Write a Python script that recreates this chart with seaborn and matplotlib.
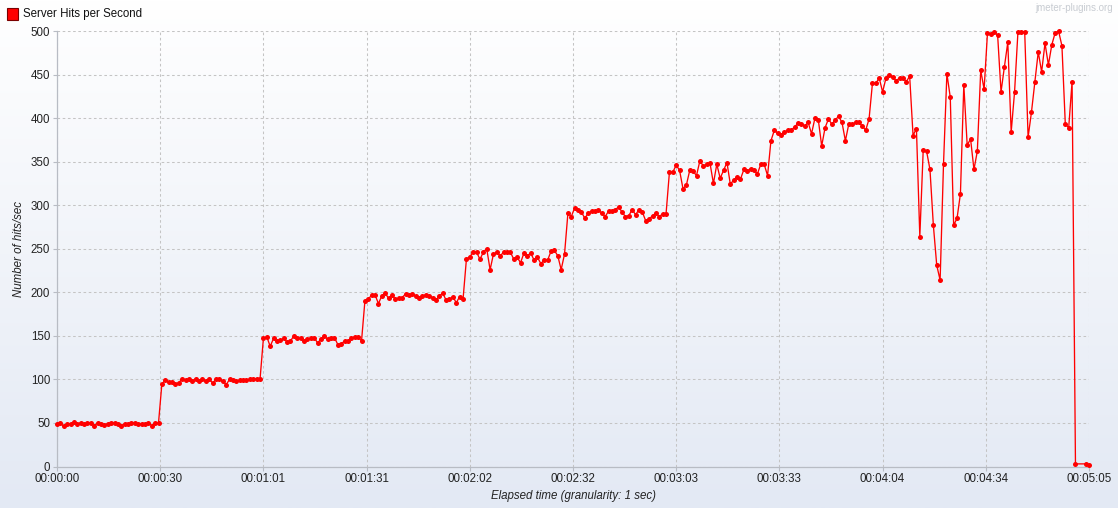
import numpy as np
import pandas as pd
import matplotlib
matplotlib.use("Agg")
import matplotlib.pyplot as plt
import seaborn as sns
from matplotlib.colors import LinearSegmentedColormap
from matplotlib.patches import Rectangle

# ---------------- data ----------------
series_name = "Server Hits per Second"

hits_0_39 = [49, 50, 46, 49, 49, 51, 49, 50, 49, 50, 50, 47, 50, 49, 48, 49, 50, 50, 49, 47,
             49, 49, 50, 50, 49, 49, 49, 50, 47, 50, 50, 95, 99, 97, 97, 95, 96, 101, 99, 100]
hits_40_79 = [98, 101, 98, 101, 98, 100, 96, 100, 100, 98, 94, 100, 99, 98, 99, 99, 99, 100, 100, 101,
              100, 147, 149, 138, 147, 144, 145, 147, 143, 144, 150, 147, 147, 144, 146, 147, 148, 142, 146, 150]
hits_80_119 = [146, 148, 148, 140, 141, 144, 144, 147, 149, 149, 144, 190, 192, 197, 197, 187, 196, 199, 193, 197,
               192, 193, 194, 198, 197, 198, 196, 193, 196, 197, 196, 194, 191, 196, 199, 191, 192, 195, 188, 195]
hits_120_159 = [192, 238, 241, 246, 246, 238, 246, 250, 226, 244, 246, 242, 246, 246, 246, 238, 240, 234, 245, 242,
                245, 237, 240, 233, 237, 237, 247, 248, 242, 226, 244, 291, 287, 297, 295, 292, 285, 291, 293, 293]
hits_160_199 = [294, 291, 287, 293, 293, 295, 298, 292, 287, 288, 295, 289, 295, 292, 282, 284, 288, 291, 287, 290,
                290, 338, 338, 346, 340, 319, 323, 340, 339, 334, 351, 345, 347, 348, 325, 347, 331, 340, 349, 324]
hits_200_239 = [329, 332, 330, 341, 339, 342, 340, 336, 347, 347, 334, 374, 386, 383, 381, 384, 386, 386, 390, 394,
                393, 391, 395, 382, 400, 398, 368, 389, 399, 393, 398, 402, 395, 374, 393, 393, 395, 395, 391, 386]
hits_240_267 = [399, 440, 440, 446, 430, 446, 449, 447, 443, 446, 446, 442, 448, 380, 388, 264, 363, 362, 341, 277,
                231, 214, 347, 451, 424, 277, 285, 313]
hits_268_300 = [438, 369, 376, 341, 362, 455, 433, 498, 497, 499, 495, 430, 459, 487, 384, 430, 499, 499, 499, 378,
                407, 441, 476, 453, 486, 461, 484, 498, 500, 483, 393, 389, 442]
hits_tail = [3, 3, 2]
tail_seconds = [301, 304, 305]

hits = (hits_0_39 + hits_40_79 + hits_80_119 + hits_120_159 + hits_160_199
        + hits_200_239 + hits_240_267 + hits_268_300 + hits_tail)
seconds = list(range(0, 301)) + tail_seconds

x_tick_labels = ["00:00:00", "00:00:30", "00:01:01", "00:01:31", "00:02:02", "00:02:32",
                 "00:03:03", "00:03:33", "00:04:04", "00:04:34", "00:05:05"]
y_ticks = [0, 50, 100, 150, 200, 250, 300, 350, 400, 450, 500]

df = pd.DataFrame({"seconds": seconds, "hits": hits})

# ---------------- style ----------------
sns.set_style("white")
plt.rcParams["font.family"] = ["Liberation Sans", "DejaVu Sans"]

W, H = 1118, 508
fig = plt.figure(figsize=(W / 100, H / 100), dpi=100)

# gradient background for whole panel
bg = fig.add_axes([0, 0, 1, 1], zorder=-10)
cmap = LinearSegmentedColormap.from_list("jm", ["#FFFFFF", "#E3E9F4"])
grad = np.linspace(0, 1, 256).reshape(-1, 1)
bg.imshow(grad, aspect="auto", cmap=cmap, extent=[0, 1, 0, 1], origin="upper")
bg.set_xlim(0, 1)
bg.set_ylim(0, 1)
bg.axis("off")

left, right, top, bottom = 57, 1089, 31, 466.5
ax = fig.add_axes([left / W, 1 - bottom / H, (right - left) / W, (bottom - top) / H])
ax.patch.set_alpha(0)

sns.lineplot(data=df, x="seconds", y="hits", ax=ax, color="#FF0000", linewidth=0.95,
             marker="o", markersize=3.6, markeredgewidth=0, markerfacecolor="#FF0000", zorder=3)
for ln in ax.lines:
    ln.set_clip_on(False)

xmin, xmax = seconds[0], seconds[-1]
ax.set_xlim(xmin, xmax)
ax.set_ylim(0, 500)
ax.set_xticks(np.linspace(xmin, xmax, len(x_tick_labels)))
ax.set_xticklabels(x_tick_labels)
ax.set_yticks(y_ticks)
ax.set_yticklabels([str(v) for v in y_ticks])

ax.grid(True, color="#C4C4C4", linestyle=(0, (2.5, 2.5)), linewidth=0.75, zorder=0)
ax.set_axisbelow(True)
for s in ["top", "right"]:
    ax.spines[s].set_visible(False)
for s in ["left", "bottom"]:
    ax.spines[s].set_color("#B8BCC4")
    ax.spines[s].set_linewidth(0.9)

ax.tick_params(axis="both", which="both", direction="out", length=3, width=0.8,
               color="#B8BCC4", labelsize=8.3, labelcolor="#222222", pad=2,
               bottom=True, left=True)

ax.set_xlabel("Elapsed time (granularity: 1 sec)", fontsize=8.3, style="italic",
              color="#222222", labelpad=3)
ax.set_ylabel("Number of hits/sec", fontsize=8.3, style="italic", color="#222222", labelpad=4)

# legend (top-left square + text)
fig.patches.append(Rectangle((7 / W, 1 - 20 / H), 11 / W, 12 / H, transform=fig.transFigure,
                             facecolor="#FF0000", edgecolor="#7A0000", linewidth=0.8))
fig.text(23 / W, 1 - 14.5 / H, series_name, fontsize=8.3, color="#111111",
         ha="left", va="center")

# watermark
fig.text(1113 / W, 1 - 8 / H, "jmeter-plugins.org", fontsize=7, color="#C8CCD2",
         ha="right", va="center")

fig.savefig("out.png", dpi=100)
